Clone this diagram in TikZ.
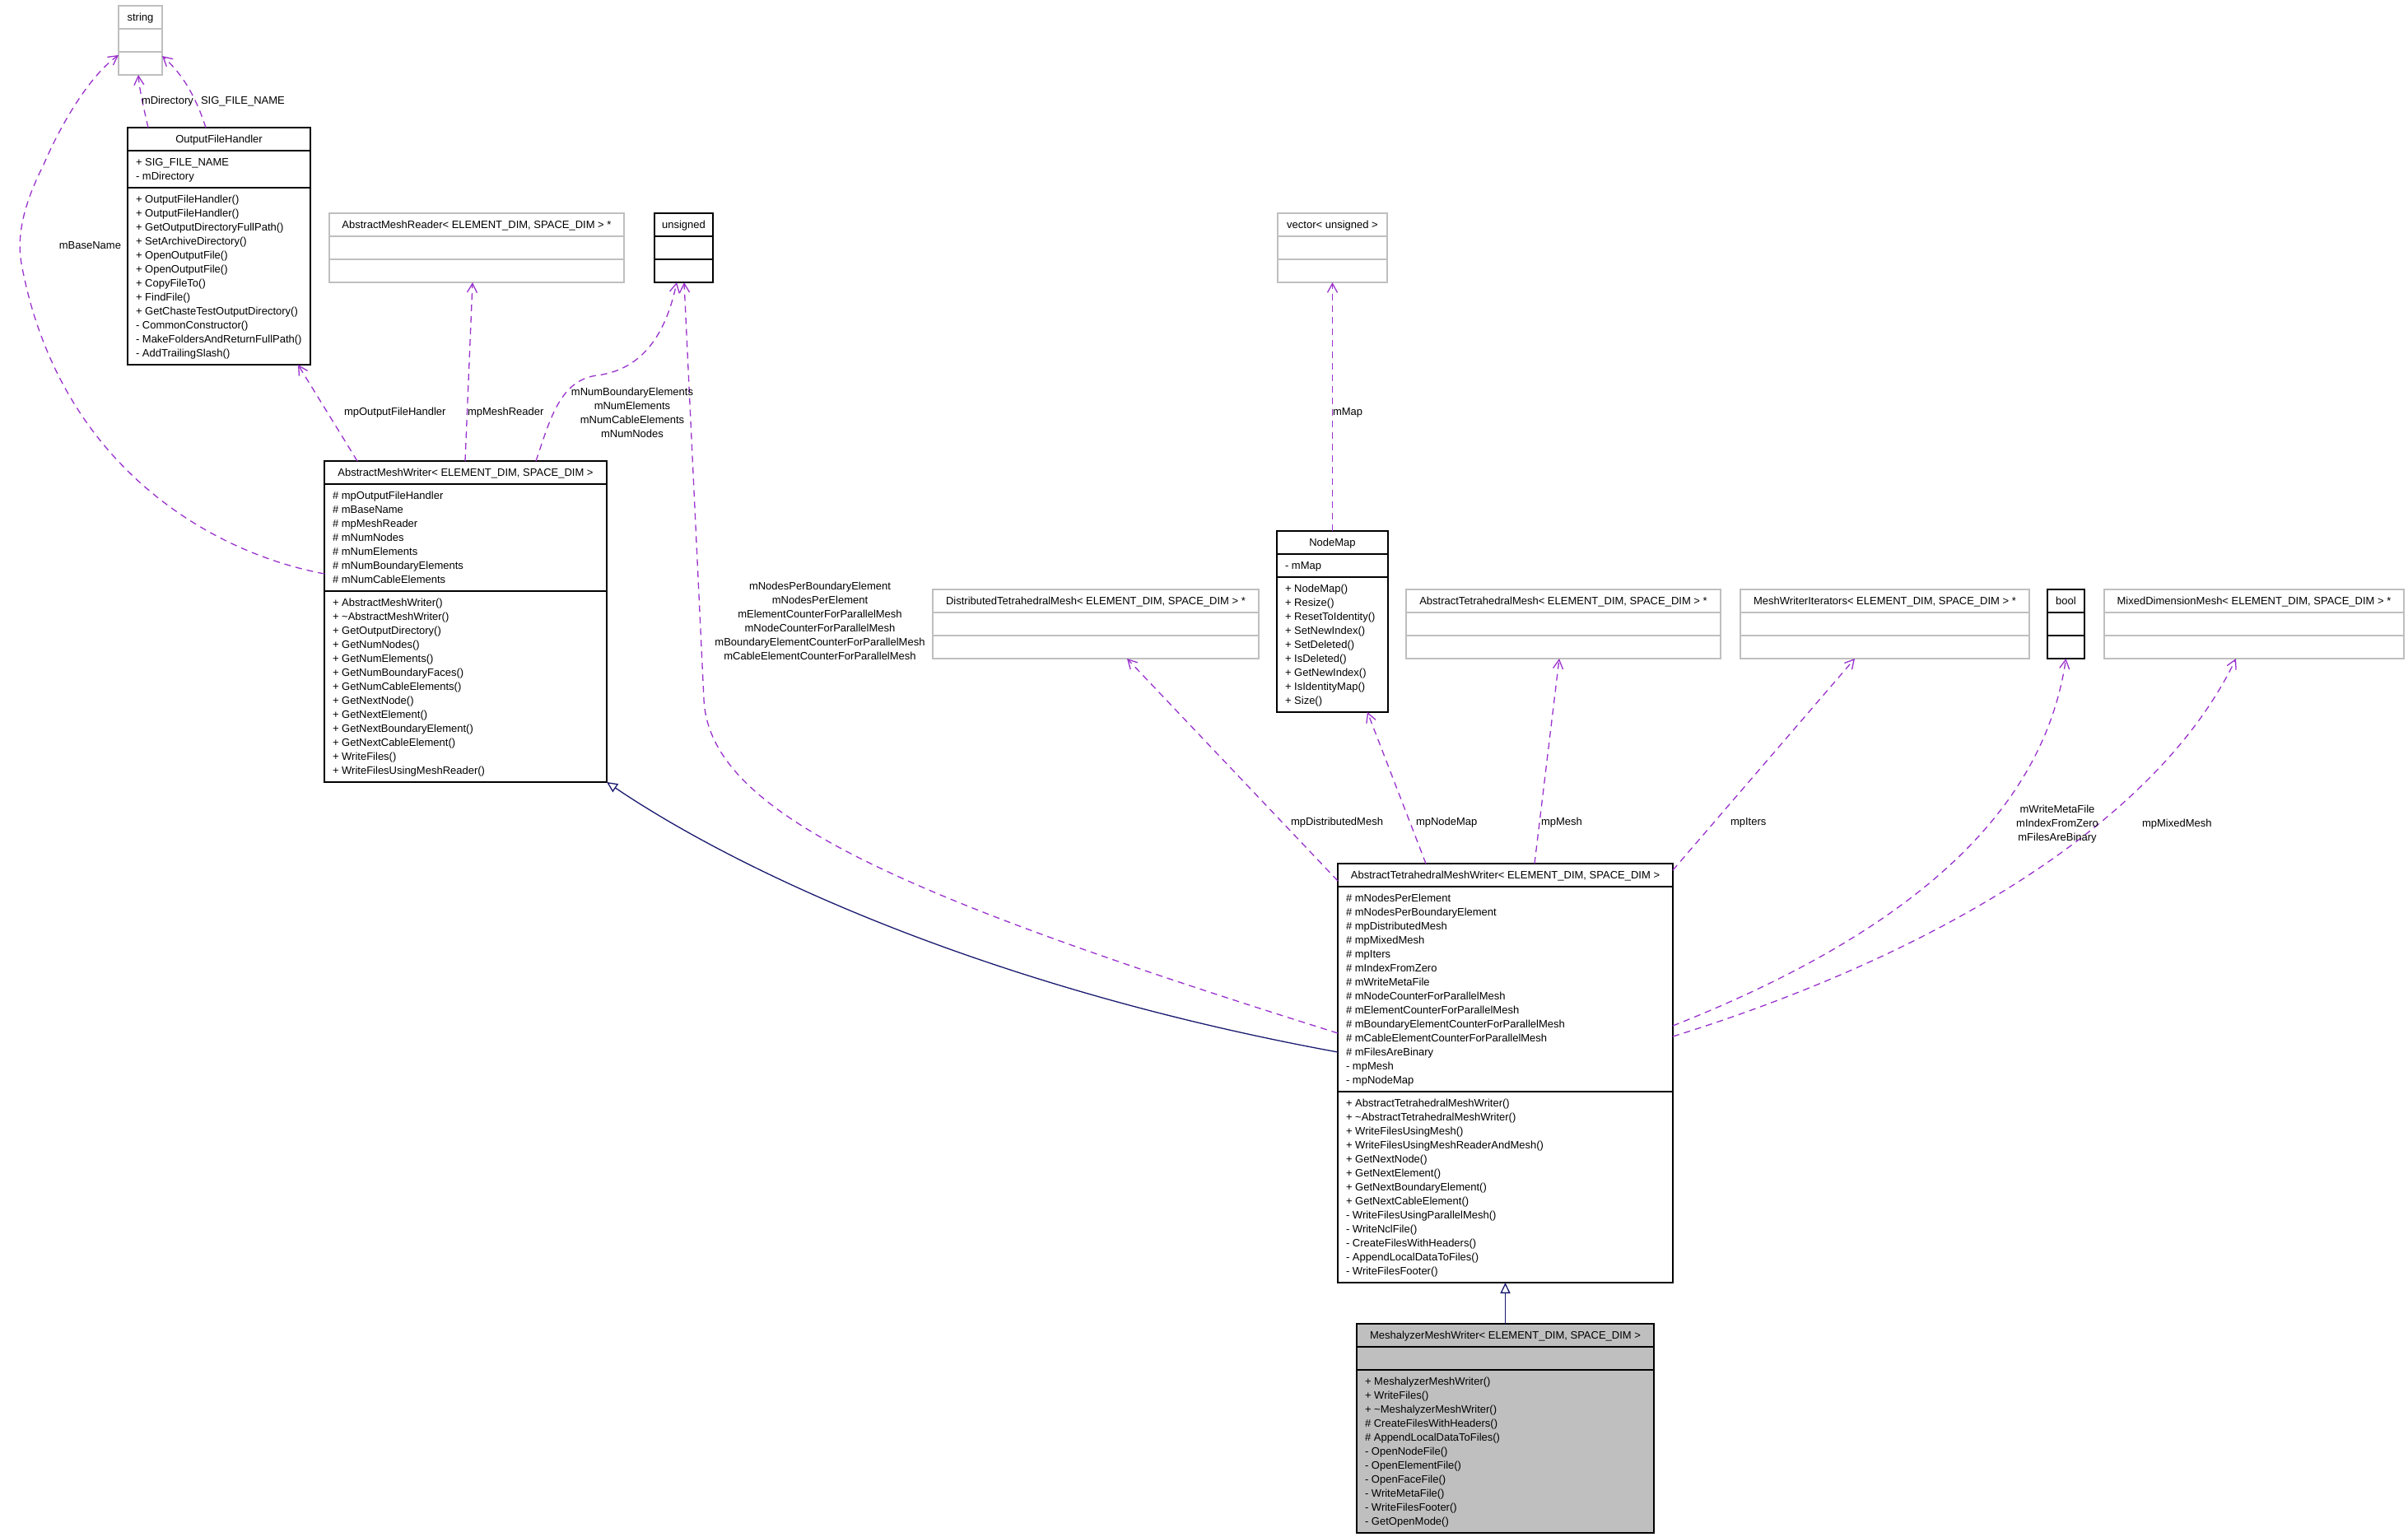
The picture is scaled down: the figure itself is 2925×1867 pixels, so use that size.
\documentclass[tikz,border=0pt]{standalone}
\usepackage{fontspec}
\setmainfont{Liberation Sans}
\usetikzlibrary{calc,arrows.meta}
\definecolor{depc}{HTML}{9A32CD}
\definecolor{inhc}{HTML}{191970}
\definecolor{ubox}{HTML}{BFBFBF}
\definecolor{mfill}{HTML}{BFBFBF}
\newcommand\cbox[6]{\node[#6, minimum width=#4pt, minimum height=#5pt, anchor=north west] (#1) at (#2,#3) {};}
\newcommand\hdr[2]{\node[txt, anchor=base] (#1-h) at ($(#1.north)+(0,18.5)$) {#2};}
\newcommand\sepl[3]{\draw[#3] ($(#1.north west)+(0,#2)$) -- ($(#1.north east)+(0,#2)$);}
\newcommand\mlines[3]{\foreach \t [count=\i] in {#3} {\node[txt, anchor=base west] (#1-#2-\i) at ($(#1.north west)+(10,{#2+1.5+17*\i})$) {\t};}}
\begin{document}
\begin{tikzpicture}[x=1pt,y=-1pt,
  txt/.style={inner sep=0pt, outer sep=0pt, font=\fontsize{13}{17}\selectfont},
  classb/.style={draw=black, line width=1.4pt, fill=white, inner sep=0pt, outer sep=0pt},
  classg/.style={draw=ubox, line width=1.6pt, fill=white, inner sep=0pt, outer sep=0pt},
  classm/.style={draw=black, line width=1.4pt, fill=mfill, inner sep=0pt, outer sep=0pt},
  bsep/.style={draw=black, line width=1.4pt},
  gsep/.style={draw=ubox, line width=1.6pt},
  dep/.style={draw=depc, line width=1.3pt, dash pattern=on 8pt off 6pt, -{Straight Barb[length=11pt,width=12pt,line width=1.3pt]}},
  inh/.style={draw=inhc, line width=1.3pt, -{Triangle[open, length=13pt, width=12pt, line width=1.3pt]}}]
\fill[white] (0,0) rectangle (2925,1867);
\useasboundingbox (0,0) rectangle (2925,1867);

% ---------- boxes ----------
\cbox{str}{144}{7}{53}{84}{classg}
\hdr{str}{string}
\sepl{str}{28}{gsep}\sepl{str}{56}{gsep}

\cbox{ofh}{155}{155}{222}{288}{classb}
\hdr{ofh}{OutputFileHandler}
\sepl{ofh}{28}{bsep}\sepl{ofh}{73}{bsep}
\mlines{ofh}{28}{+ SIG\_FILE\_NAME, - mDirectory}
\mlines{ofh}{73}{+ OutputFileHandler(), + OutputFileHandler(), + GetOutputDirectoryFullPath(), + SetArchiveDirectory(), + OpenOutputFile(), + OpenOutputFile(), + CopyFileTo(), + FindFile(), + GetChasteTestOutputDirectory(), - CommonConstructor(), - MakeFoldersAndReturnFullPath(), - AddTrailingSlash()}

\cbox{amr}{400}{259}{358}{84}{classg}
\hdr{amr}{AbstractMeshReader< ELEMENT\_DIM, SPACE\_DIM > *}
\sepl{amr}{28}{gsep}\sepl{amr}{56}{gsep}

\cbox{uns}{795}{259}{71}{84}{classb}
\hdr{uns}{unsigned}
\sepl{uns}{28}{bsep}\sepl{uns}{56}{bsep}

\cbox{vec}{1552}{259}{133}{84}{classg}
\hdr{vec}{vector< unsigned >}
\sepl{vec}{28}{gsep}\sepl{vec}{56}{gsep}

\cbox{amw}{394}{560}{343}{390}{classb}
\hdr{amw}{AbstractMeshWriter< ELEMENT\_DIM, SPACE\_DIM >}
\sepl{amw}{28}{bsep}\sepl{amw}{158}{bsep}
\mlines{amw}{28}{\# mpOutputFileHandler, \# mBaseName, \# mpMeshReader, \# mNumNodes, \# mNumElements, \# mNumBoundaryElements, \# mNumCableElements}
\mlines{amw}{158}{+ AbstractMeshWriter(), + \textasciitilde AbstractMeshWriter(), + GetOutputDirectory(), + GetNumNodes(), + GetNumElements(), + GetNumBoundaryFaces(), + GetNumCableElements(), + GetNextNode(), + GetNextElement(), + GetNextBoundaryElement(), + GetNextCableElement(), + WriteFiles(), + WriteFilesUsingMeshReader()}

\cbox{nm}{1551}{645}{135}{220}{classb}
\hdr{nm}{NodeMap}
\sepl{nm}{28}{bsep}\sepl{nm}{56}{bsep}
\mlines{nm}{28}{- mMap}
\mlines{nm}{56}{+ NodeMap(), + Resize(), + ResetToIdentity(), + SetNewIndex(), + SetDeleted(), + IsDeleted(), + GetNewIndex(), + IsIdentityMap(), + Size()}

\cbox{dtm}{1133}{716}{396}{84}{classg}
\hdr{dtm}{DistributedTetrahedralMesh< ELEMENT\_DIM, SPACE\_DIM > *}
\sepl{dtm}{28}{gsep}\sepl{dtm}{56}{gsep}

\cbox{atm}{1708}{716}{382}{84}{classg}
\hdr{atm}{AbstractTetrahedralMesh< ELEMENT\_DIM, SPACE\_DIM > *}
\sepl{atm}{28}{gsep}\sepl{atm}{56}{gsep}

\cbox{mwi}{2114}{716}{351}{84}{classg}
\hdr{mwi}{MeshWriterIterators< ELEMENT\_DIM, SPACE\_DIM > *}
\sepl{mwi}{28}{gsep}\sepl{mwi}{56}{gsep}

\cbox{bool}{2487}{716}{45}{84}{classb}
\hdr{bool}{bool}
\sepl{bool}{28}{bsep}\sepl{bool}{56}{bsep}

\cbox{mdm}{2556}{716}{364}{84}{classg}
\hdr{mdm}{MixedDimensionMesh< ELEMENT\_DIM, SPACE\_DIM > *}
\sepl{mdm}{28}{gsep}\sepl{mdm}{56}{gsep}

\cbox{atmw}{1625}{1049}{407}{509}{classb}
\hdr{atmw}{AbstractTetrahedralMeshWriter< ELEMENT\_DIM, SPACE\_DIM >}
\sepl{atmw}{28}{bsep}\sepl{atmw}{277}{bsep}
\mlines{atmw}{28}{\# mNodesPerElement, \# mNodesPerBoundaryElement, \# mpDistributedMesh, \# mpMixedMesh, \# mpIters, \# mIndexFromZero, \# mWriteMetaFile, \# mNodeCounterForParallelMesh, \# mElementCounterForParallelMesh, \# mBoundaryElementCounterForParallelMesh, \# mCableElementCounterForParallelMesh, \# mFilesAreBinary, - mpMesh, - mpNodeMap}
\mlines{atmw}{277}{+ AbstractTetrahedralMeshWriter(), + \textasciitilde AbstractTetrahedralMeshWriter(), + WriteFilesUsingMesh(), + WriteFilesUsingMeshReaderAndMesh(), + GetNextNode(), + GetNextElement(), + GetNextBoundaryElement(), + GetNextCableElement(), - WriteFilesUsingParallelMesh(), - WriteNclFile(), - CreateFilesWithHeaders(), - AppendLocalDataToFiles(), - WriteFilesFooter()}

\cbox{mmw}{1648}{1608}{361}{254}{classm}
\hdr{mmw}{MeshalyzerMeshWriter< ELEMENT\_DIM, SPACE\_DIM >}
\sepl{mmw}{28}{bsep}\sepl{mmw}{56}{bsep}
\mlines{mmw}{56}{+ MeshalyzerMeshWriter(), + WriteFiles(), + \textasciitilde MeshalyzerMeshWriter(), \# CreateFilesWithHeaders(), \# AppendLocalDataToFiles(), - OpenNodeFile(), - OpenElementFile(), - OpenFaceFile(), - WriteMetaFile(), - WriteFilesFooter(), - GetOpenMode()}

% ---------- connectors ----------
\draw[dep] ($(ofh.north west)+(25,0)$) .. controls (173,125) and (169,105) .. ($(str.south west)+(24,0)$);
\draw[dep] ($(ofh.north west)+(95,0)$) .. controls (238,118) and (222,90) .. ($(str.north east)+(0,61)$);
\draw[dep] ($(amw.north west)+(0,137)$) .. controls (250,670) and (70,560) .. (26,320) .. controls (18,276) and (38,230) .. (53,200) .. controls (70,160) and (105,95) .. ($(str.north west)+(0,60)$);
\draw[dep] ($(amw.north west)+(40,0)$) -- ($(ofh.south west)+(207,0)$);
\draw[dep] ($(amw.north west)+(171,0)$) -- ($(amr.south west)+(174,0)$);
\draw[dep] ($(amw.north west)+(257,0)$) .. controls (668,510) and (680,462) .. (725,456) .. controls (790,448) and (812,390) .. ($(uns.south west)+(27,0)$);
\draw[dep] ($(atmw.north west)+(0,206)$) .. controls (1100,1090) and (862,990) .. (855,850) -- ($(uns.south west)+(36,0)$);
\draw[dep] (nm.north) -- (vec.south);
\draw[dep] ($(atmw.north west)+(0,21)$) -- ($(dtm.south west)+(236,0)$);
\draw[dep] ($(atmw.north west)+(107,0)$) -- ($(nm.south west)+(110,0)$);
\draw[dep] ($(atmw.north west)+(239,0)$) -- ($(atm.south west)+(186,0)$);
\draw[dep] ($(atmw.north east)+(0,8)$) -- ($(mwi.south west)+(139,0)$);
\draw[dep] ($(atmw.north east)+(0,197)$) .. controls (2300,1140) and (2480,1000) .. (bool.south);
\draw[dep] ($(atmw.north east)+(0,210)$) .. controls (2350,1160) and (2620,1000) .. ($(mdm.south west)+(160,0)$);
\draw[inh] ($(atmw.north west)+(0,229)$) .. controls (1200,1200) and (900,1060) .. (amw.south east);
\draw[inh] (mmw.north) -- (atmw.south);

% ---------- labels ----------
\node[txt, anchor=base west] (l1) at (172,126.5) {mDirectory};
\node[txt, anchor=base west] (l2) at (244,126.5) {SIG\_FILE\_NAME};
\node[txt, anchor=base east] (l3) at (147,302.5) {mBaseName};
\node[txt, anchor=base west] (l4) at (418,504.5) {mpOutputFileHandler};
\node[txt, anchor=base west] (l5) at (568,504.5) {mpMeshReader};
\foreach \t [count=\i] in {mNumBoundaryElements, mNumElements, mNumCableElements, mNumNodes}
  {\node[txt, anchor=base] (l6-\i) at (768,{463.5+17*\i}) {\t};}
\foreach \t [count=\i] in {mNodesPerBoundaryElement, mNodesPerElement, mElementCounterForParallelMesh, mNodeCounterForParallelMesh, mBoundaryElementCounterForParallelMesh, mCableElementCounterForParallelMesh}
  {\node[txt, anchor=base] (l7-\i) at (996,{699.5+17*\i}) {\t};}
\node[txt, anchor=base west] (l8) at (1619,504.5) {mMap};
\node[txt, anchor=base east] (l9) at (1680,1002.5) {mpDistributedMesh};
\node[txt, anchor=base west] (l10) at (1720,1002.5) {mpNodeMap};
\node[txt, anchor=base west] (l11) at (1872,1002.5) {mpMesh};
\node[txt, anchor=base west] (l12) at (2102,1002.5) {mpIters};
\foreach \t [count=\i] in {mWriteMetaFile, mIndexFromZero, mFilesAreBinary}
  {\node[txt, anchor=base] (l13-\i) at (2499,{970.5+17*\i}) {\t};}
\node[txt, anchor=base west] (l14) at (2602,1004.5) {mpMixedMesh};
\end{tikzpicture}
\end{document}
